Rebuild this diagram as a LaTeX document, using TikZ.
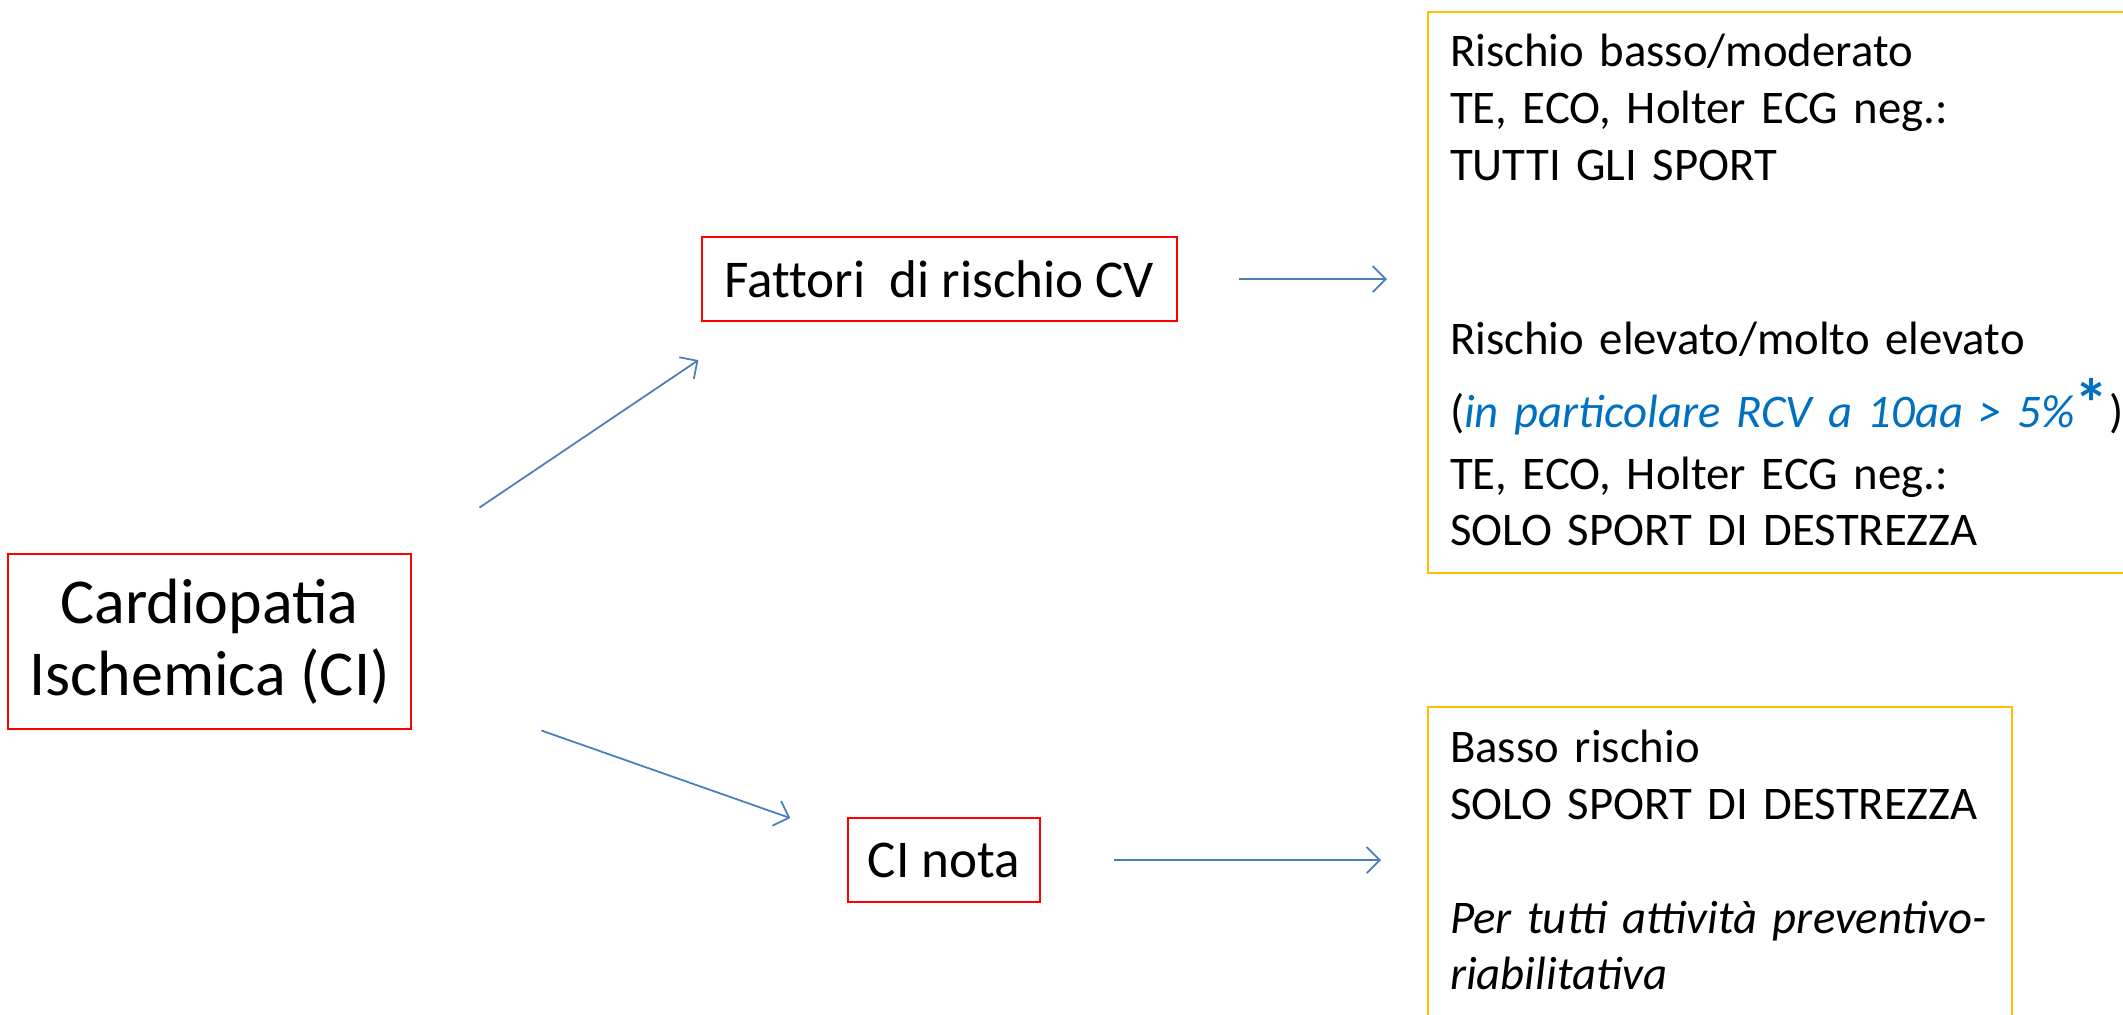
\documentclass[tikz,border=0pt]{standalone}
\usepackage{fontspec}
\setmainfont{Carlito}
\usepackage{xcolor}
\usetikzlibrary{arrows.meta, calc}

\definecolor{boxred}{HTML}{FF0000}
\definecolor{noteyellow}{HTML}{FFC000}
\definecolor{arrowblue}{HTML}{4A7EBB}
\definecolor{riskblue}{HTML}{0070C0}

\begin{document}
\begin{tikzpicture}[
        x=0.01cm, y=-0.01cm,
        box/.style={rectangle, draw=boxred, line width=0.6pt, align=center, inner sep=0pt},
        note/.style={rectangle, draw=noteyellow, line width=0.6pt, anchor=north west, align=left, inner xsep=0.22cm, inner ysep=0pt, font=\fontsize{13.3}{16.2}\selectfont},
        arrow/.style={-{Straight Barb[length=1.3mm, width=2.6mm]}, draw=arrowblue, line width=0.5pt}
    ]
        \useasboundingbox (0,0) rectangle (2123,1014);
        \clip (0,0) rectangle (2123,1014);

        \node[box, minimum width=4.03cm, minimum height=1.75cm, font=\fontsize{18.2}{20.4}\selectfont] (cardio) at (209.5,641.5) {Cardiopatia\\Ischemica (CI)};
        \node[box, minimum width=4.75cm, minimum height=0.84cm, font=\fontsize{15.1}{18}\selectfont\addfontfeatures{Ligatures=NoCommon}] (fattori) at (939.5,279) {Fattori\ \ di rischio CV};
        \node[box, minimum width=1.92cm, minimum height=0.84cm, font=\fontsize{15.1}{18}\selectfont] (cinota) at (944,860) {CI nota};

        \node[note, text width=7.5cm, text height=0.54cm, text depth=5.07cm] (risk) at (1427,11) {Rischio basso/moderato\\
            TE, ECO, Holter ECG neg.:\\
            TUTTI GLI SPORT\\[1.17cm]
            Rischio elevato/molto elevato\\[0.16cm]
            (\textcolor{riskblue}{\textit{in particolare RCV a 10aa > 5\%}{\fontsize{19.5}{20}\selectfont\bfseries *}})\\[0.05cm]
            TE, ECO, Holter ECG neg.:\\
            SOLO SPORT DI DESTREZZA};
        \node[note, text width=5.4cm, text height=0.55cm, text depth=3cm] (low) at (1427,706) {Basso rischio\\
            SOLO SPORT DI DESTREZZA\\[\baselineskip]
            \textit{Per tutti attività preventivo-}\\
            \textit{riabilitativa}};

        \draw[arrow, shorten <=0.81cm, shorten >=0.68cm] (cardio.north east) -- ([xshift=0.54cm]fattori.south west);
        \draw[arrow, shorten <=1.37cm, shorten >=0.6cm] ([yshift=-0.435cm]cardio.east) -- ([yshift=0.22cm]cinota.west);
        \draw[arrow, shorten <=0.61cm, shorten >=0.4cm] (fattori.east) -- (fattori.east -| risk.west);
        \draw[arrow, shorten <=0.73cm, shorten >=0.46cm] (cinota.east) -- (cinota.east -| low.west);
    \end{tikzpicture}
\end{document}
